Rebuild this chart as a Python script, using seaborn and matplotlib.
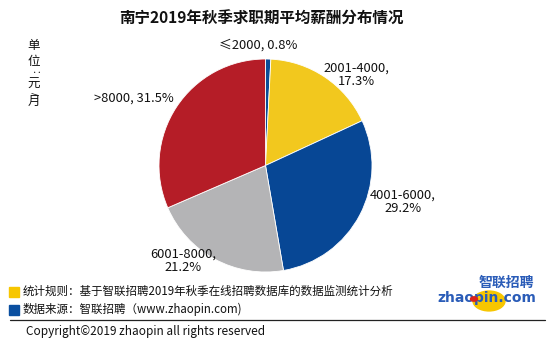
import matplotlib
matplotlib.use("Agg")
import matplotlib.pyplot as plt
from matplotlib.patches import Circle, Rectangle
from matplotlib.lines import Line2D
import seaborn as sns

sns.set_theme(style="white")
plt.rcParams["font.family"] = ["Noto Sans CJK SC", "DejaVu Sans"]

# Salary bands (yuan / month) and their shares (%)
categories = ["≤2000", "2001-4000", "4001-6000", "6001-8000", ">8000"]
shares = [0.8, 17.3, 29.2, 21.2, 31.5]
colors = ["#0a4c97", "#f2c81e", "#074795", "#b4b4b6", "#b51d27"]

title = "南宁2019年秋季求职期平均薪酬分布情况"
unit_chars = ["单", "位", "：", "元", "/", "月"]
note_rule = "统计规则：基于智联招聘2019年秋季在线招聘数据库的数据监测统计分析"
note_source = "数据来源：智联招聘（www.zhaopin.com)"
copyright_text = "Copyright©2019 zhaopin all rights reserved"

W, H = 554, 344
fig = plt.figure(figsize=(W / 100, H / 100), dpi=100)
fig.patch.set_facecolor("white")


def fx(px):
    return px / W


def fy(py):
    return 1 - py / H


# Pie axes: square box around the pie centre
cx, cy, r = 265.5, 165.5, 106.5
ax = fig.add_axes([fx(cx - r), fy(cy + r), 2 * r / W, 2 * r / H])
wedges, _ = ax.pie(shares, colors=colors, startangle=90, counterclock=False,
                   radius=1, wedgeprops=dict(edgecolor="white", linewidth=0.6))
ax.set_xlim(-1, 1)
ax.set_ylim(-1, 1)
ax.axis("off")

# Data labels ("band, share%")
label_pos = [(258, 45), (356, 75), (403, 202), (183, 261), (134, 98)]
label_multiline = [False, True, True, True, False]
for cat, val, (px, py), ml in zip(categories, shares, label_pos, label_multiline):
    sep = ",\n" if ml else ", "
    fig.text(fx(px), fy(py), f"{cat}{sep}{val}%", ha="center", va="center",
             fontsize=9.3, color="#111111", linespacing=1.05)

# Title
fig.text(fx(261), fy(19), title, ha="center", va="center", fontsize=11.2,
         fontweight="bold", color="#111111")

# Vertical unit text
unit_y = [46, 62, 74, 84, 93, 101]
unit_size = [9, 9, 6.5, 9, 6.5, 9]
for ch, py, fs in zip(unit_chars, unit_y, unit_size):
    rot = -90 if ch in ("：", "/") else 0
    fig.text(fx(34), fy(py), ch, ha="center", va="center", fontsize=fs,
             color="#111111", rotation=rot, family=["DejaVu Sans"] if ch == "/" else None)

# Footnotes with colour keys
fig.patches.append(Rectangle((fx(9), fy(297)), 10 / W, 10 / H,
                             transform=fig.transFigure, color="#f7c600"))
fig.patches.append(Rectangle((fx(9), fy(315)), 10 / W, 10 / H,
                             transform=fig.transFigure, color="#0a4fa0"))
fig.text(fx(23), fy(291.5), note_rule, ha="left", va="center", fontsize=8.3,
         color="#111111")
fig.text(fx(23), fy(309.5), note_source, ha="left", va="center", fontsize=8.3,
         color="#111111")

# Separator rule and copyright
fig.lines.append(Line2D([fx(10), fx(545)], [fy(320), fy(320)],
                        transform=fig.transFigure, color="#222222", lw=0.9))
fig.text(fx(26), fy(331), copyright_text, ha="left", va="center",
         fontsize=8.5, color="#111111")

# Brand mark
logo_blue = "#2a5cb8"
fig.patches.append(Circle((fx(489), fy(301)), 16 / W, transform=fig.transFigure,
                          color="#f7c600", zorder=1))
fig.text(fx(506), fy(283), "智联招聘", ha="center", va="center", fontsize=10,
         fontweight="bold", color=logo_blue, zorder=3)
fig.text(fx(487), fy(298), "zhaopin.com", ha="center", va="center",
         fontsize=10, fontweight="bold", color=logo_blue,
         family=["DejaVu Sans"], zorder=3)
fig.patches.append(Circle((fx(474), fy(299)), 3.5 / W, transform=fig.transFigure,
                          color="#d9231d", zorder=4))

fig.savefig("out.png", dpi=100, facecolor="white")
